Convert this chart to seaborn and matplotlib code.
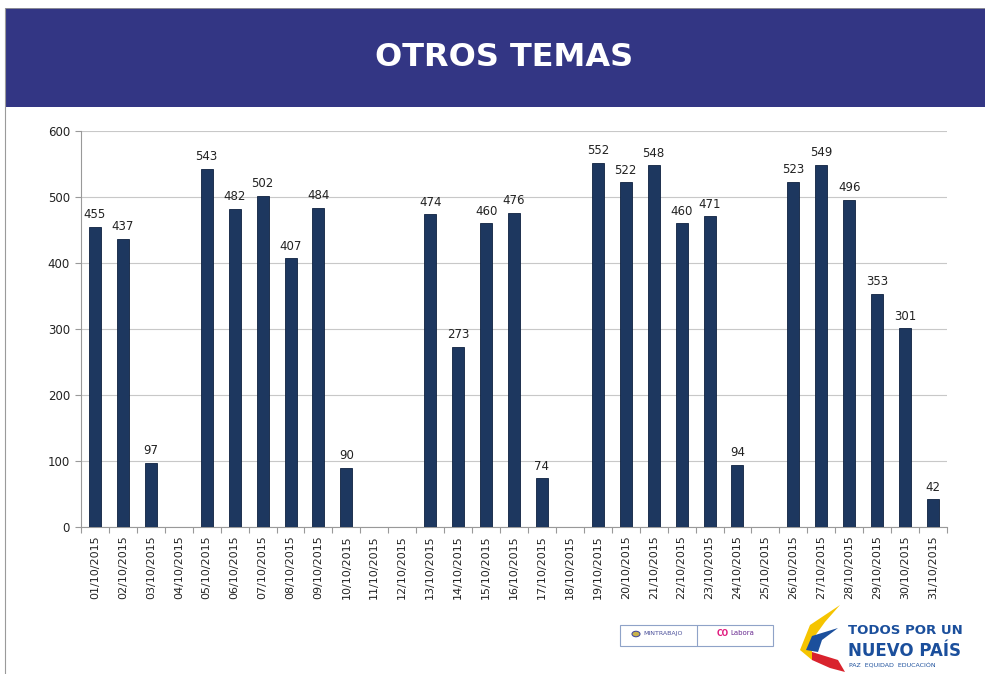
import numpy as np
import pandas as pd
import matplotlib
matplotlib.use("Agg")
import matplotlib.pyplot as plt
import seaborn as sns
from matplotlib.patches import Rectangle, Polygon, Circle

# ---- data ----
dates = [f"{d:02d}/10/2015" for d in range(1, 32)]
values = [455, 437, 97, np.nan, 543, 482, 502, 407, 484, 90,
          np.nan, np.nan, 474, 273, 460, 476, 74, np.nan, 552, 522,
          548, 460, 471, 94, np.nan, 523, 549, 496, 353, 301, 42]
yticks = [0, 100, 200, 300, 400, 500, 600]
title = "OTROS TEMAS"

df = pd.DataFrame({"fecha": dates, "valor": values})

sns.set_theme(style="white")
plt.rcParams["font.family"] = ["DejaVu Sans"]

fig = plt.figure(figsize=(9.85, 6.74), dpi=100)
W, H = 985, 674

def fx(px):
    return px / W

def fy(py):
    return 1 - py / H

# header band
fig.patches.append(Rectangle((fx(5), fy(107)), fx(980), 99 / H,
                             transform=fig.transFigure, facecolor="#333684",
                             edgecolor="none", zorder=0))
# thin slide border on the left
fig.lines.append(plt.Line2D([fx(5), fx(5)], [fy(8), fy(674)], transform=fig.transFigure,
                            color="#9a9a9a", lw=0.8))
fig.lines.append(plt.Line2D([fx(5), fx(985)], [fy(8), fy(8)], transform=fig.transFigure,
                            color="#9a9a9a", lw=0.6))
fig.text(fx(504), fy(57), title, color="white", fontsize=23, fontweight="bold",
         ha="center", va="center")

# main chart
ax = fig.add_axes([fx(81), fy(527), fx(947 - 81), (527 - 131) / H])
sns.barplot(data=df, x="fecha", y="valor", color="#1d375f", width=0.43,
            edgecolor="#0e2140", linewidth=0.6, saturation=1, ax=ax, zorder=3)

for i, v in enumerate(values):
    if not np.isnan(v):
        ax.annotate(f"{int(v)}", (i, v), xytext=(0, 4), textcoords="offset points",
                    ha="center", va="bottom", fontsize=8.5, color="#222222")

ax.set_xlim(-0.5, len(dates) - 0.5)
ax.set_ylim(0, 600)
ax.set_yticks(yticks)
ax.set_yticklabels([str(t) for t in yticks], fontsize=8.5, color="#222222")
ax.yaxis.grid(True, color="#c8c8c8", lw=0.8, zorder=0)
ax.set_axisbelow(True)
ax.set_xlabel("")
ax.set_ylabel("")
ax.set_xticks(range(len(dates)))
ax.set_xticklabels(dates, rotation=90, fontsize=8, color="#222222")
ax.set_xticks(np.arange(-0.5, len(dates) + 0.5, 1), minor=True)
ax.tick_params(axis="x", which="major", length=0, pad=6)
ax.tick_params(axis="x", which="minor", length=4, color="#999999", width=0.8, bottom=True)
ax.tick_params(axis="y", which="major", length=4, color="#999999", width=0.8, left=True, pad=4)
for s in ["top", "right"]:
    ax.spines[s].set_visible(False)
for s in ["left", "bottom"]:
    ax.spines[s].set_color("#999999")
    ax.spines[s].set_linewidth(0.8)

# ---- logos (decorative) ----
fig.patches.append(Rectangle((fx(620), fy(646)), fx(153), 21 / H, transform=fig.transFigure,
                             facecolor="white", edgecolor="#8fa3c8", lw=0.8))
fig.lines.append(plt.Line2D([fx(697), fx(697)], [fy(646), fy(625)], transform=fig.transFigure,
                            color="#8fa3c8", lw=0.8))
fig.patches.append(Circle((fx(636), fy(634)), 4 / W, transform=fig.transFigure,
                          facecolor="#c9b24a", edgecolor="#4a4f9a", lw=0.8))
fig.text(fx(643), fy(634), "MINTRABAJO", fontsize=4.5, color="#4a4f9a", va="center")
fig.text(fx(717), fy(633), "CO", fontsize=5.5, color="#e0197d", va="center", fontweight="bold")
fig.text(fx(730), fy(633), "Labora", fontsize=5, color="#6a2c91", va="center")

# swoosh
fig.patches.append(Polygon([(fx(840), fy(605)), (fx(810), fy(625)), (fx(800), fy(650)),
                            (fx(812), fy(660)), (fx(812), fy(640)), (fx(825), fy(622))],
                           closed=True, transform=fig.transFigure, facecolor="#f5c400",
                           edgecolor="none"))
fig.patches.append(Polygon([(fx(838), fy(628)), (fx(812), fy(636)), (fx(806), fy(650)),
                            (fx(818), fy(652)), (fx(822), fy(640))],
                           closed=True, transform=fig.transFigure, facecolor="#1b4f9c",
                           edgecolor="none"))
fig.patches.append(Polygon([(fx(812), fy(652)), (fx(838), fy(660)), (fx(845), fy(672)),
                            (fx(830), fy(668)), (fx(812), fy(660))],
                           closed=True, transform=fig.transFigure, facecolor="#d9232d",
                           edgecolor="none"))
fig.text(fx(848), fy(631), "TODOS POR UN", fontsize=9.5, fontweight="bold",
         color="#1b4f9c", va="center")
fig.text(fx(848), fy(651), "NUEVO PAÍS", fontsize=12, fontweight="bold",
         color="#1b4f9c", va="center")
fig.text(fx(849), fy(666), "PAZ  EQUIDAD  EDUCACIÓN", fontsize=4.5,
         color="#1b4f9c", va="center")

fig.savefig("out.png", dpi=100)
